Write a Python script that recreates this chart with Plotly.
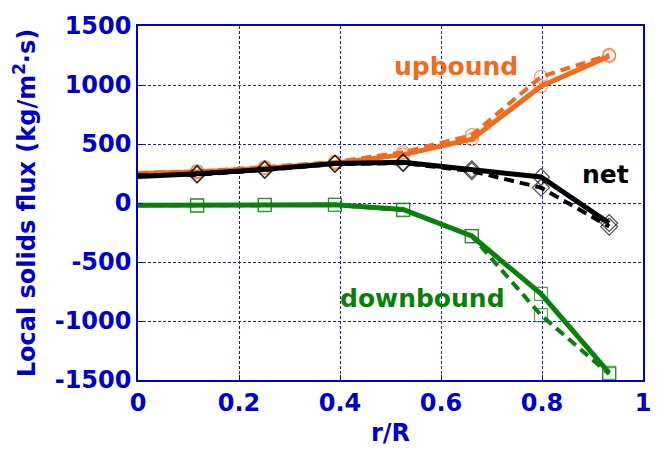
import plotly.graph_objects as go

# radial positions (r/R); the first point (wall-centre start) has no symbol
r = [0.0, 0.117, 0.251, 0.390, 0.525, 0.661, 0.798, 0.933]

up_solid = [250, 262, 295, 338, 410, 540, 990, 1245]
up_dash = [255, 268, 305, 348, 430, 575, 1070, 1255]

net_solid = [225, 248, 285, 335, 345, 285, 220, -170]
net_dash = [235, 240, 280, 330, 338, 270, 130, -200]

down_solid = [-20, -20, -15, -15, -55, -280, -770, -1440]
down_dash = [-20, -22, -18, -15, -60, -280, -950, -1450]

x_ticks = [0, 0.2, 0.4, 0.6, 0.8, 1]
y_ticks = [-1500, -1000, -500, 0, 500, 1000, 1500]

ORANGE = "#F26B1D"
BLACK = "#000000"
GREEN = "#0A800A"
BLUE = "#0000CC"
GRID = "#1818E8"
FONT = "DejaVu Sans, Arial, sans-serif"

sizes = [0] + [13] * (len(r) - 1)

fig = go.Figure()


def add(y, color, symbol, dash, width):
    fig.add_trace(go.Scatter(
        x=r, y=y, mode="lines+markers",
        line=dict(color=color, width=width, dash=dash),
        marker=dict(symbol=symbol, size=sizes, color=color,
                    line=dict(color=color, width=1.2)),
        showlegend=False,
    ))


add(up_dash, ORANGE, "circle-open", "10px,6px", 4)
add(up_solid, ORANGE, "circle-open", "solid", 5)
add(net_dash, BLACK, "diamond-open", "10px,6px", 4)
add(net_solid, BLACK, "diamond-open", "solid", 5)
add(down_dash, GREEN, "square-open", "10px,6px", 4)
add(down_solid, GREEN, "square-open", "solid", 5)

label_font = dict(family=FONT, size=25)
fig.add_annotation(x=0.630, y=1160, text="<b>upbound</b>", showarrow=False,
                   font=dict(color=ORANGE, **label_font))
fig.add_annotation(x=0.925, y=245, text="<b>net</b>", showarrow=False,
                   font=dict(color=BLACK, **label_font))
fig.add_annotation(x=0.564, y=-810, text="<b>downbound</b>", showarrow=False,
                   font=dict(color=GREEN, **label_font))

axis_common = dict(
    showline=True, linecolor=BLUE, linewidth=1.5, mirror=True,
    showgrid=True, gridcolor=GRID, gridwidth=1, griddash="3px,2px",
    zeroline=False, ticks="inside", ticklen=5, tickcolor=BLUE,
    tickfont=dict(family=FONT, size=24, color=BLUE),
)

fig.update_xaxes(range=[0, 1], tickvals=x_ticks,
                 ticktext=["<b>%g</b>" % v for v in x_ticks],
                 title=dict(text="<b>r/R</b>", standoff=9,
                            font=dict(family=FONT, size=24, color=BLUE)),
                 **axis_common)
fig.update_yaxes(range=[-1500, 1500], tickvals=y_ticks,
                 ticktext=["<b>%d</b>" % v for v in y_ticks],
                 title=dict(text="<b>Local solids flux (kg/m<sup>2</sup>·s)</b>", standoff=12,
                            font=dict(family=FONT, size=24, color=BLUE)),
                 **axis_common)

fig.update_layout(
    width=666, height=459,
    margin=dict(l=138, r=23, t=22, b=79),
    paper_bgcolor="white", plot_bgcolor="white",
)

fig.write_html("out.html")
